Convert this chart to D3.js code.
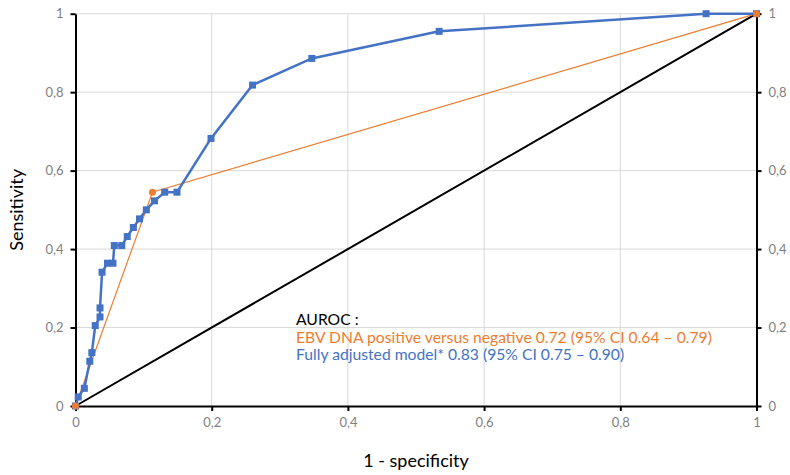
<!DOCTYPE html>
<html>
<head>
<meta charset="utf-8">
<script src="https://cdn.jsdelivr.net/npm/d3@7"></script>
<style>
  body { margin: 0; background: white; }
  svg text { font-family: Lato, "Open Sans", sans-serif; }
</style>
</head>
<body>
<div id="chart"></div>
<script>
// fully adjusted model ROC points (1 - specificity, sensitivity)
var modelFpr = [0, 0.004, 0.013, 0.021, 0.024, 0.029, 0.036, 0.036, 0.039, 0.047, 0.055, 0.057, 0.068, 0.076, 0.085, 0.094, 0.104, 0.116, 0.131, 0.149, 0.199, 0.26, 0.347, 0.534, 0.926, 1];
var modelTpr = [0, 0.023, 0.045, 0.114, 0.136, 0.205, 0.227, 0.25, 0.341, 0.364, 0.364, 0.409, 0.409, 0.432, 0.455, 0.477, 0.5, 0.523, 0.545, 0.545, 0.682, 0.818, 0.886, 0.955, 1, 1];
// EBV DNA positive vs negative
var ebvFpr = [0, 0.113, 1];
var ebvTpr = [0, 0.545, 1];
var refLine = [0, 1];
var ticks = [0, 0.2, 0.4, 0.6, 0.8, 1];
var noteLines = [
  "AUROC :",
  "EBV DNA positive versus negative 0.72 (95% CI 0.64 \u2013 0.79)",
  "Fully adjusted model* 0.83 (95% CI 0.75 \u2013 0.90)"
];

var width = 790, height = 475;
var margin = {left: 75.5, right: 33.5, top: 13.7, bottom: 69};
var blue = "#4472c4", orange = "#ed7d31";

var svg = d3.select("#chart").append("svg")
    .attr("width", width)
    .attr("height", height);

var x = d3.scaleLinear().domain([0, 1]).range([margin.left, width - margin.right]);
var y = d3.scaleLinear().domain([0, 1]).range([height - margin.bottom, margin.top]);

var fmt = function(d) { return d3.format("")(d).replace(".", ","); };

// gridlines
svg.append("g").selectAll("line.v").data(ticks.slice(1, 5)).enter().append("line")
    .attr("x1", function(d) { return x(d); }).attr("x2", function(d) { return x(d); })
    .attr("y1", y(0)).attr("y2", y(1))
    .attr("stroke", "#d9d9d9").attr("stroke-width", 1);
svg.append("g").selectAll("line.h").data(ticks.slice(1, 5)).enter().append("line")
    .attr("x1", x(0)).attr("x2", x(1))
    .attr("y1", function(d) { return y(d); }).attr("y2", function(d) { return y(d); })
    .attr("stroke", "#d9d9d9").attr("stroke-width", 1);
svg.append("line")
    .attr("x1", x(0)).attr("x2", x(1)).attr("y1", y(1)).attr("y2", y(1))
    .attr("stroke", "#d9d9d9");

// axes
function styleAxis(g) {
  g.select(".domain").attr("stroke", "black").attr("stroke-width", 2);
  g.selectAll(".tick line").attr("stroke", "black").attr("stroke-width", 2);
  g.selectAll(".tick text").attr("fill", "#7f7f7f").style("font-size", "13px");
}
svg.append("g").attr("transform", "translate(0," + y(0) + ")")
    .call(d3.axisBottom(x).tickValues(ticks).tickFormat(fmt).tickSizeInner(5).tickSizeOuter(0).tickPadding(7))
    .call(styleAxis);
svg.append("g").attr("transform", "translate(" + x(0) + ",0)")
    .call(d3.axisLeft(y).tickValues(ticks).tickFormat(fmt).tickSizeInner(5).tickSizeOuter(0).tickPadding(7))
    .call(styleAxis);
svg.append("g").attr("transform", "translate(" + x(1) + ",0)")
    .call(d3.axisRight(y).tickValues(ticks).tickFormat(fmt).tickSizeInner(5).tickSizeOuter(0).tickPadding(7))
    .call(styleAxis);

// reference diagonal
svg.append("line")
    .attr("x1", x(refLine[0])).attr("y1", y(refLine[0]))
    .attr("x2", x(refLine[1])).attr("y2", y(refLine[1]))
    .attr("stroke", "black").attr("stroke-width", 2);

var line = d3.line()
    .x(function(d) { return x(d[0]); })
    .y(function(d) { return y(d[1]); });

var ebvData = d3.zip(ebvFpr, ebvTpr);
var modelData = d3.zip(modelFpr, modelTpr);

svg.append("path").datum(ebvData)
    .attr("d", line).attr("fill", "none")
    .attr("stroke", orange).attr("stroke-width", 1.2);

svg.append("path").datum(modelData)
    .attr("d", line).attr("fill", "none")
    .attr("stroke", blue).attr("stroke-width", 2.5);

svg.append("g").selectAll("rect").data(modelData).enter().append("rect")
    .attr("x", function(d) { return x(d[0]) - 3.5; })
    .attr("y", function(d) { return y(d[1]) - 3.5; })
    .attr("width", 7).attr("height", 7)
    .attr("fill", blue);

svg.append("g").selectAll("circle").data(ebvData).enter().append("circle")
    .attr("cx", function(d) { return x(d[0]); })
    .attr("cy", function(d) { return y(d[1]); })
    .attr("r", 3.5)
    .attr("fill", orange);

// axis titles
svg.append("text")
    .attr("x", (x(0) + x(1)) / 2).attr("y", 467)
    .attr("text-anchor", "middle")
    .style("font-size", "18px").attr("fill", "black")
    .text("1 -  specificity");

svg.append("text")
    .attr("transform", "translate(23," + ((y(0) + y(1)) / 2) + ") rotate(-90)")
    .attr("text-anchor", "middle")
    .style("font-size", "18px").attr("fill", "black")
    .text("Sensitivity");

// AUROC note
var noteColors = ["black", orange, blue];
svg.append("g").selectAll("text").data(noteLines).enter().append("text")
    .attr("x", 296)
    .attr("y", function(d, i) { return 325 + i * 17.7; })
    .attr("fill", function(d, i) { return noteColors[i]; })
    .style("font-size", "15.7px")
    .text(function(d) { return d; });
</script>
</body>
</html>
